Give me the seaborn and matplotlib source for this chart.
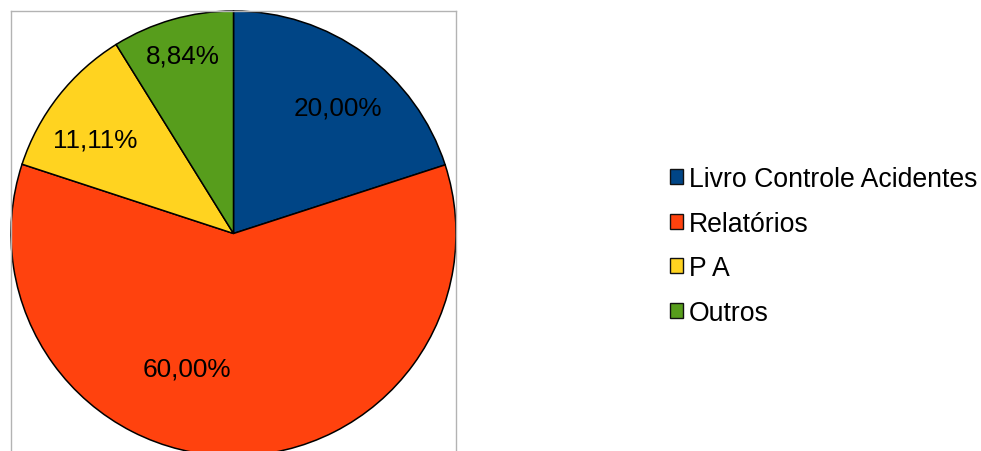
import matplotlib
matplotlib.use("Agg")
import matplotlib.pyplot as plt
import seaborn as sns
from matplotlib.patches import Patch
import numpy as np

# Shares of each record source (percent)
categories = ["Livro Controle Acidentes", "Relatórios", "P A", "Outros"]
shares = [20.00, 60.00, 11.11, 8.84]
colors = ["#004586", "#ff420e", "#ffd320", "#579d1c"]

sns.set_theme(style="white")
plt.rcParams["font.family"] = ["Liberation Sans", "DejaVu Sans"]
plt.rcParams["text.color"] = "black"

W, H = 981, 452
fig = plt.figure(figsize=(W / 100, H / 100), dpi=100)

# Plot area: square box that runs past the bottom edge of the figure
left, top, size = 11, 12, 445
ax = fig.add_axes([left / W, (H - top - size) / H, size / W, size / H])
ax.set_xticks([])
ax.set_yticks([])
for sp in ax.spines.values():
    sp.set_color("#b3b3b3")
    sp.set_linewidth(1.0)

wedges, _ = ax.pie(
    shares,
    colors=colors,
    startangle=90,
    counterclock=False,
    radius=1.0,
    wedgeprops=dict(edgecolor="black", linewidth=1.1),
    frame=True,
)
ax.set_xlim(-1.0, 1.0)
ax.set_ylim(-1.0, 1.0)
ax.set_aspect("equal")

# Percentage labels inside each wedge
label_r = [0.735, 0.64, 0.75, 0.83]
angle_shift = [-3.5, -19.0, 4.0, 0.0]
for w, val, r, da in zip(wedges, shares, label_r, angle_shift):
    mid = np.deg2rad((w.theta1 + w.theta2) / 2 + da)
    txt = f"{val:.2f}%".replace(".", ",")
    ax.text(r * np.cos(mid), r * np.sin(mid), txt, ha="center", va="center",
            fontsize=18.8, color="black")

handles = [Patch(facecolor=c, edgecolor="#111111", linewidth=1.0) for c in colors]
fig.legend(
    handles, categories,
    loc="center left",
    bbox_to_anchor=(670 / W, 1 - 247 / H),
    frameon=False,
    fontsize=19.2,
    labelcolor="black",
    handlelength=0.5,
    handleheight=0.5,
    handletextpad=0.22,
    labelspacing=0.7,
    borderpad=0,
    borderaxespad=0,
)

fig.savefig("out.png", dpi=100)
